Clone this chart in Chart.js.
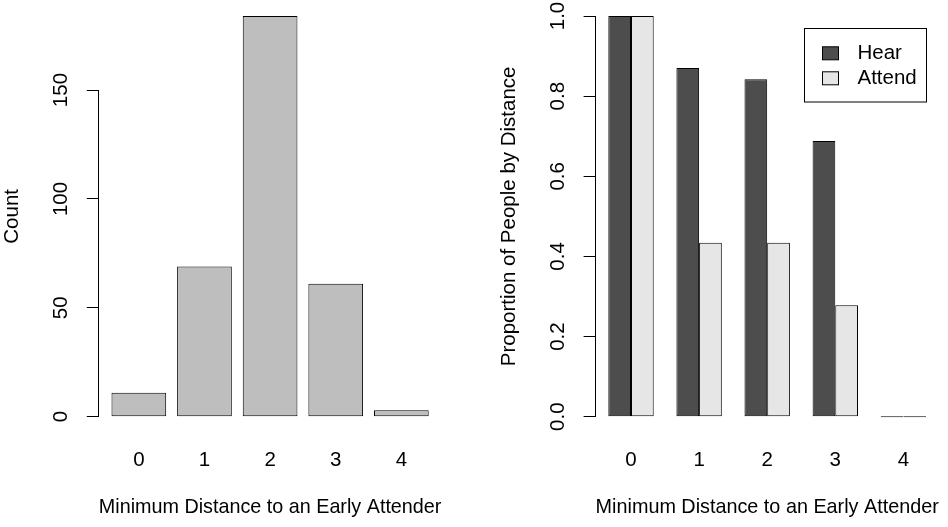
<!DOCTYPE html>
<html>
<head>
<meta charset="utf-8">
<script src="https://cdn.jsdelivr.net/npm/chart.js@4.4.1/dist/chart.umd.min.js"></script>
<style>
  html, body { margin: 0; padding: 0; background: #fff; }
  #wrap { position: relative; width: 948px; height: 527px; overflow: hidden; }
  canvas { position: absolute; top: 0; }
  #countChart { left: 0; }
  #propChart { left: 474px; }
</style>
</head>
<body>
<div id="wrap">
  <canvas id="countChart" width="474" height="527"></canvas>
  <canvas id="propChart" width="474" height="527"></canvas>
</div>
<script>
// data
const distances = ['0', '1', '2', '3', '4'];
const counts = [11, 69, 184, 61, 3];
const hearProp = [1.0, 0.87, 0.842, 0.688, 0];
const attendProp = [1.0, 0.434, 0.434, 0.278, 0];
const countTicks = [0, 50, 100, 150];
const propTicks = [0, 0.2, 0.4, 0.6, 0.8, 1.0];
const xTitle = 'Minimum Distance to an Early Attender';

Chart.defaults.font.family = '"Liberation Sans", Arial, Helvetica, sans-serif';
Chart.defaults.font.size = 20.5;
Chart.defaults.color = '#000';

// R barplot style layout: bar width 1, space between bars / groups
const simpleMids = distances.map((d, i) => 0.2 + i * 1.2 + 0.5);
const groupMids = distances.map((d, i) => 1 + i * 3 + 1);

// 4% axis extension, like R's xaxs/yaxs = "r"
function rRange(lo, hi) {
  const pad = (hi - lo) * 0.04;
  return { min: lo - pad, max: hi + pad };
}

// draws the y axis line only between first and last tick
const rAxisLine = {
  id: 'rAxisLine',
  afterDraw(chart) {
    const y = chart.scales.y;
    const ctx = chart.ctx;
    const x = Math.round(y.right - 0.5) + 0.5;
    const t0 = y.getPixelForValue(y.ticks[0].value);
    const t1 = y.getPixelForValue(y.ticks[y.ticks.length - 1].value);
    ctx.save();
    ctx.strokeStyle = '#000';
    ctx.lineWidth = 1;
    ctx.beginPath();
    ctx.moveTo(x, Math.round(t0 - 0.5) + 0.5);
    ctx.lineTo(x, Math.round(t1 - 0.5) + 0.5);
    ctx.stroke();
    ctx.restore();
  }
};

// R legend("topright") look: boxed, filled squares
const rLegend = {
  id: 'rLegend',
  afterDraw(chart) {
    const ctx = chart.ctx;
    const area = chart.chartArea;
    const boxW = 122, boxH = 73.5;
    const left = Math.round(area.right - 12.5 - boxW) + 0.5;
    const top = 28.5;
    ctx.save();
    ctx.strokeStyle = '#000';
    ctx.lineWidth = 1;
    ctx.strokeRect(left, top, boxW, boxH);
    ctx.font = Chart.defaults.font.size + 'px ' + Chart.defaults.font.family;
    ctx.textBaseline = 'middle';
    ctx.textAlign = 'left';
    chart.data.datasets.forEach((ds, i) => {
      const cy = 53.3 + i * 25;
      ctx.fillStyle = ds.backgroundColor;
      ctx.fillRect(left + 18, cy - 6.5, 16, 13);
      ctx.strokeRect(left + 18, cy - 6.5, 16, 13);
      ctx.fillStyle = '#000';
      ctx.fillText(ds.label, left + 53, cy);
    });
    ctx.restore();
  }
};

function xAxis(mids, lo, hi) {
  return {
    type: 'linear',
    offset: false,
    ...rRange(lo, hi),
    grid: { display: false, drawTicks: false, offset: false },
    border: { display: false },
    ticks: {
      padding: 15,
      includeBounds: false,
      callback: (v, i) => distances[i]
    },
    afterBuildTicks: s => { s.ticks = mids.map(v => ({ value: v })); },
    afterFit: s => { s.height = 94.3; s.paddingLeft = 0; s.paddingRight = 0; },
    title: { display: true, text: xTitle, font: { size: 20.7 }, padding: { top: 0, bottom: 7 } }
  };
}

function yAxis(range, tickVals, label, pad, fmt) {
  return {
    type: 'linear',
    ...range,
    grid: { drawOnChartArea: false, color: '#000', lineWidth: 1, tickLength: 12 },
    border: { display: false },
    ticks: {
      minRotation: 90,
      maxRotation: 90,
      crossAlign: 'center',
      padding: pad,
      includeBounds: false,
      callback: fmt
    },
    afterBuildTicks: s => { s.ticks = tickVals.map(v => ({ value: v })); },
    afterFit: s => { s.width = 98.8; s.paddingTop = 0; s.paddingBottom = 0; },
    title: { display: true, text: label, padding: { top: 0, bottom: 0 } }
  };
}

const baseOptions = {
  responsive: false,
  animation: false,
  devicePixelRatio: 1,
  events: [],
  plugins: { legend: { display: false }, tooltip: { enabled: false } }
};

// Left: count of people by minimum distance
new Chart(document.getElementById('countChart'), {
  type: 'bar',
  data: {
    datasets: [{
      label: 'Count',
      data: counts.map((v, i) => ({ x: simpleMids[i], y: v })),
      backgroundColor: '#BEBEBE',
      borderColor: '#000',
      borderWidth: 1,
      borderSkipped: false,
      inflateAmount: 0,
      categoryPercentage: 1,
      barPercentage: 1 / 1.2
    }]
  },
  options: {
    ...baseOptions,
    layout: { padding: { left: 0, right: 32.6, top: 0, bottom: 0 } },
    scales: {
      x: xAxis(simpleMids, 0.2, 0.2 + distances.length * 1.2 - 0.2),
      y: yAxis(rRange(0, Math.max(...counts)), countTicks, 'Count', 8, v => String(v))
    }
  },
  plugins: [rAxisLine]
});

// Right: proportion that hear / attend, grouped
const groupBar = {
  borderColor: '#000',
  borderWidth: 1,
  borderSkipped: false,
  inflateAmount: 0,
  minBarLength: 1,
  categoryPercentage: 2 / 3,
  barPercentage: 1
};

new Chart(document.getElementById('propChart'), {
  type: 'bar',
  data: {
    datasets: [
      { label: 'Hear', data: hearProp.map((v, i) => ({ x: groupMids[i], y: v })), backgroundColor: '#4D4D4D', ...groupBar },
      { label: 'Attend', data: attendProp.map((v, i) => ({ x: groupMids[i], y: v })), backgroundColor: '#E6E6E6', ...groupBar }
    ]
  },
  options: {
    ...baseOptions,
    layout: { padding: { left: 22.8, right: 9.2, top: 0, bottom: 0 } },
    scales: {
      x: xAxis(groupMids, 1, distances.length * 3),
      y: yAxis(rRange(0, 1), propTicks, 'Proportion of People by Distance', 10.8, v => Number(v).toFixed(1))
    }
  },
  plugins: [rAxisLine, rLegend]
});
</script>
</body>
</html>
